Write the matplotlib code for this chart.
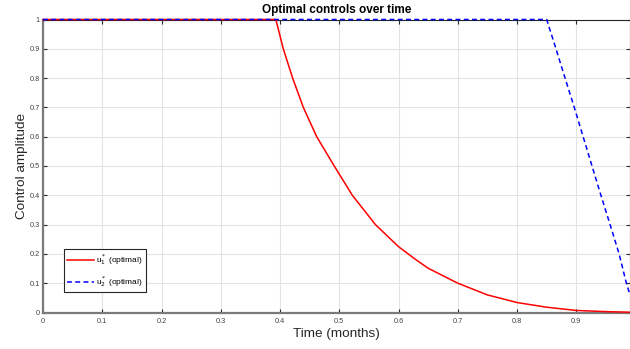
import numpy as np
import matplotlib
matplotlib.use('Agg')
import matplotlib.pyplot as plt

plt.rcParams['font.family'] = ['Liberation Sans', 'DejaVu Sans']

# values
t_u1 = [0.0, 0.393, 0.4055, 0.4213, 0.4393, 0.4619, 0.4915, 0.522, 0.561,
        0.6, 0.6277, 0.65, 0.7, 0.75, 0.8, 0.85, 0.9, 0.95, 0.99]
u1 = [1.0, 1.0, 0.9, 0.8, 0.7, 0.6, 0.5, 0.4, 0.3,
      0.2246, 0.1826, 0.151, 0.1, 0.06, 0.034, 0.018, 0.007, 0.003, 0.001]

t_u2 = [0.0, 0.85, 0.8657, 0.881, 0.8966, 0.9115, 0.9265, 0.9415, 0.957,
        0.9722, 0.9845, 0.9906]
u2 = [1.0, 1.0, 0.9, 0.8, 0.7, 0.6, 0.5, 0.4, 0.3, 0.2, 0.1, 0.06]

x_ticks = [0, 0.1, 0.2, 0.3, 0.4, 0.5, 0.6, 0.7, 0.8, 0.9]
y_ticks = [0, 0.1, 0.2, 0.3, 0.4, 0.5, 0.6, 0.7, 0.8, 0.9, 1]

fig = plt.figure(figsize=(6.3, 3.49), dpi=100)
ax = fig.add_axes([43 / 630, 1 - 312.5 / 349, 1 - 43 / 630, (312.5 - 19.5) / 349])

ax.plot(t_u1, u1, color='r', linewidth=1.1, label=r'u$_1^*$ (optimal)', clip_on=False, zorder=5)
ax.plot(t_u2, u2, color='b', linewidth=1.1, linestyle=(0, (3.2, 2.2)), label=r'u$_2^*$ (optimal)',
        clip_on=False, zorder=6)

ax.set_xlim(0, 0.9906)
ax.set_ylim(0, 1)
ax.set_xticks(x_ticks)
ax.set_yticks(y_ticks)
ax.set_xticklabels(['0', '0.1', '0.2', '0.3', '0.4', '0.5', '0.6', '0.7', '0.8', '0.9'])
ax.set_yticklabels(['0', '0.1', '0.2', '0.3', '0.4', '0.5', '0.6', '0.7', '0.8', '0.9', '1'])
ax.tick_params(direction='in', length=3, width=0.8, labelsize=5.3, labelcolor='#444444',
               top=True, right=True, color='#262626')
ax.tick_params(axis='x', pad=4)
ax.tick_params(axis='y', pad=2.5)
ax.grid(True, color='#e3e3e3', linewidth=0.8)
ax.set_axisbelow(True)

for s in ['left', 'bottom']:
    ax.spines[s].set_color('#7a7a7a')
    ax.spines[s].set_linewidth(1.6)
for s in ['top', 'right']:
    ax.spines[s].set_color('#262626')
    ax.spines[s].set_linewidth(0.8)

ax.set_title('Optimal controls over time', fontsize=8.5, fontweight='bold', pad=4.5)
ax.set_xlabel('Time (months)', fontsize=9.7, color='#262626', labelpad=2)
ax.set_ylabel('Control amplitude', fontsize=9.7, color='#262626', labelpad=1)

leg = ax.legend(loc='lower left', bbox_to_anchor=(0.0358, 0.069), borderaxespad=0,
                fontsize=6, fancybox=False, edgecolor='#262626', handlelength=3.2,
                handletextpad=0.2, borderpad=0.4, labelspacing=0.8, framealpha=1)
leg.get_frame().set_linewidth(0.8)
leg.set_zorder(10)

fig.savefig('out.png', dpi=100)
